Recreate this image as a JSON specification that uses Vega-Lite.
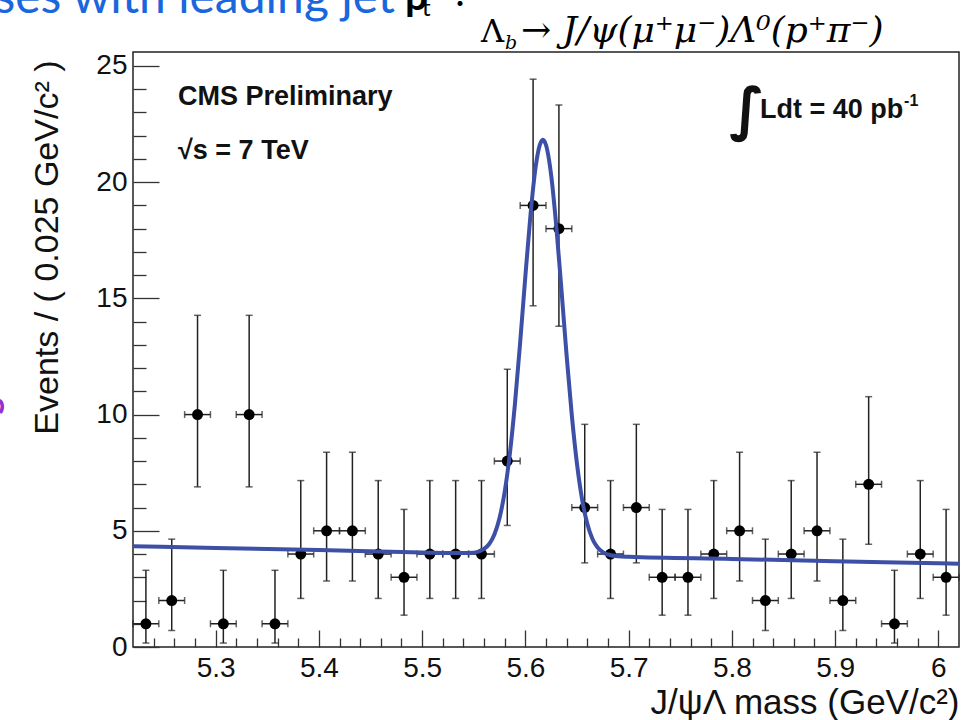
{
  "$schema": "https://vega.github.io/schema/vega-lite/v6.json",
  "width": 826,
  "height": 595,
  "autosize": {"type": "none"},
  "padding": {"left": 133, "top": 52, "right": 8, "bottom": 73},
  "background": "white",
  "config": {
    "font": "Liberation Sans",
    "view": {"stroke": "#222", "strokeWidth": 1.5},
    "axis": {"grid": false, "domain": false, "tickColor": "#333", "tickWidth": 1.3, "labelColor": "#111", "titleColor": "#111"}
  },
  "datasets": {
    "bins": [
      {"m": 5.2325, "n": 1, "lo": 0.17, "hi": 3.30, "x0": 5.22, "x1": 5.245},
      {"m": 5.2575, "n": 2, "lo": 0.71, "hi": 4.64, "x0": 5.245, "x1": 5.27},
      {"m": 5.2825, "n": 10, "lo": 6.89, "hi": 14.27, "x0": 5.27, "x1": 5.295},
      {"m": 5.3075, "n": 1, "lo": 0.17, "hi": 3.30, "x0": 5.295, "x1": 5.32},
      {"m": 5.3325, "n": 10, "lo": 6.89, "hi": 14.27, "x0": 5.32, "x1": 5.345},
      {"m": 5.3575, "n": 1, "lo": 0.17, "hi": 3.30, "x0": 5.345, "x1": 5.37},
      {"m": 5.3825, "n": 4, "lo": 2.09, "hi": 7.16, "x0": 5.37, "x1": 5.395},
      {"m": 5.4075, "n": 5, "lo": 2.84, "hi": 8.38, "x0": 5.395, "x1": 5.42},
      {"m": 5.4325, "n": 5, "lo": 2.84, "hi": 8.38, "x0": 5.42, "x1": 5.445},
      {"m": 5.4575, "n": 4, "lo": 2.09, "hi": 7.16, "x0": 5.445, "x1": 5.47},
      {"m": 5.4825, "n": 3, "lo": 1.37, "hi": 5.92, "x0": 5.47, "x1": 5.495},
      {"m": 5.5075, "n": 4, "lo": 2.09, "hi": 7.16, "x0": 5.495, "x1": 5.52},
      {"m": 5.5325, "n": 4, "lo": 2.09, "hi": 7.16, "x0": 5.52, "x1": 5.545},
      {"m": 5.5575, "n": 4, "lo": 2.09, "hi": 7.16, "x0": 5.545, "x1": 5.57},
      {"m": 5.5825, "n": 8, "lo": 5.23, "hi": 11.95, "x0": 5.57, "x1": 5.595},
      {"m": 5.6075, "n": 19, "lo": 14.68, "hi": 24.43, "x0": 5.595, "x1": 5.62},
      {"m": 5.6325, "n": 18, "lo": 13.80, "hi": 23.32, "x0": 5.62, "x1": 5.645},
      {"m": 5.6575, "n": 6, "lo": 3.62, "hi": 9.58, "x0": 5.645, "x1": 5.67},
      {"m": 5.6825, "n": 4, "lo": 2.09, "hi": 7.16, "x0": 5.67, "x1": 5.695},
      {"m": 5.7075, "n": 6, "lo": 3.62, "hi": 9.58, "x0": 5.695, "x1": 5.72},
      {"m": 5.7325, "n": 3, "lo": 1.37, "hi": 5.92, "x0": 5.72, "x1": 5.745},
      {"m": 5.7575, "n": 3, "lo": 1.37, "hi": 5.92, "x0": 5.745, "x1": 5.77},
      {"m": 5.7825, "n": 4, "lo": 2.09, "hi": 7.16, "x0": 5.77, "x1": 5.795},
      {"m": 5.8075, "n": 5, "lo": 2.84, "hi": 8.38, "x0": 5.795, "x1": 5.82},
      {"m": 5.8325, "n": 2, "lo": 0.71, "hi": 4.64, "x0": 5.82, "x1": 5.845},
      {"m": 5.8575, "n": 4, "lo": 2.09, "hi": 7.16, "x0": 5.845, "x1": 5.87},
      {"m": 5.8825, "n": 5, "lo": 2.84, "hi": 8.38, "x0": 5.87, "x1": 5.895},
      {"m": 5.9075, "n": 2, "lo": 0.71, "hi": 4.64, "x0": 5.895, "x1": 5.92},
      {"m": 5.9325, "n": 7, "lo": 4.42, "hi": 10.77, "x0": 5.92, "x1": 5.945},
      {"m": 5.9575, "n": 1, "lo": 0.17, "hi": 3.30, "x0": 5.945, "x1": 5.97},
      {"m": 5.9825, "n": 4, "lo": 2.09, "hi": 7.16, "x0": 5.97, "x1": 5.995},
      {"m": 6.0075, "n": 3, "lo": 1.37, "hi": 5.92, "x0": 5.995, "x1": 6.02}
    ],
    "fit": [
      {"m": 5.22, "f": 4.34}, {"m": 5.30, "f": 4.26}, {"m": 5.40, "f": 4.17}, {"m": 5.50, "f": 4.07},
      {"m": 5.54, "f": 4.04}, {"m": 5.55, "f": 4.06}, {"m": 5.56, "f": 4.22}, {"m": 5.565, "f": 4.43},
      {"m": 5.57, "f": 4.84}, {"m": 5.575, "f": 5.55}, {"m": 5.58, "f": 6.68}, {"m": 5.585, "f": 8.32},
      {"m": 5.59, "f": 10.50}, {"m": 5.595, "f": 13.12}, {"m": 5.60, "f": 15.95}, {"m": 5.605, "f": 18.60},
      {"m": 5.61, "f": 20.66}, {"m": 5.614, "f": 21.60}, {"m": 5.617, "f": 21.82}, {"m": 5.62, "f": 21.60},
      {"m": 5.625, "f": 20.30}, {"m": 5.63, "f": 18.08}, {"m": 5.635, "f": 15.35}, {"m": 5.64, "f": 12.52},
      {"m": 5.645, "f": 9.97}, {"m": 5.65, "f": 7.88}, {"m": 5.655, "f": 6.34}, {"m": 5.66, "f": 5.30},
      {"m": 5.665, "f": 4.65}, {"m": 5.67, "f": 4.28}, {"m": 5.675, "f": 4.08}, {"m": 5.68, "f": 3.98},
      {"m": 5.69, "f": 3.90}, {"m": 5.70, "f": 3.88}, {"m": 5.80, "f": 3.79}, {"m": 5.90, "f": 3.69},
      {"m": 6.00, "f": 3.60}, {"m": 6.02, "f": 3.58}
    ]
  },
  "resolve": {"axis": {"x": "independent", "y": "independent"}},
  "layer": [
    {
      "data": {"name": "bins"},
      "mark": {"type": "rule", "color": "#222", "strokeWidth": 1.5},
      "encoding": {
        "x": {"field": "m", "type": "quantitative", "scale": {"domain": [5.22, 6.02], "nice": false, "zero": false},
          "axis": {"orient": "bottom", "values": [5.3, 5.4, 5.5, 5.6, 5.7, 5.8, 5.9, 6.0], "format": "~g", "ticks": false, "labelFontSize": 28, "labelPadding": 7,
            "title": "J/ψΛ mass (GeV/c²)", "titleFontSize": 35, "titleFontWeight": "normal", "titleAlign": "right", "titleAnchor": "end", "titleX": 826, "titleY": 66, "titleBaseline": "alphabetic"}},
        "y": {"field": "lo", "type": "quantitative", "scale": {"domain": [0, 25.6], "nice": false, "zero": false},
          "axis": {"orient": "left", "values": [0, 5, 10, 15, 20, 25], "ticks": false, "labelFontSize": 28, "labelPadding": 6,
            "title": "Events / ( 0.025 GeV/c² )", "titleFontSize": 34, "titleFontWeight": "normal", "titleAngle": 270, "titleAlign": "right", "titleAnchor": "end", "titleX": -76, "titleY": 8, "titleBaseline": "alphabetic"}},
        "y2": {"field": "hi"}
      }
    },
    {
      "data": {"name": "bins"},
      "mark": {"type": "rule", "color": "#222", "strokeWidth": 1.5},
      "encoding": {
        "x": {"field": "x0", "type": "quantitative", "scale": {"domain": [5.22, 6.02], "nice": false, "zero": false},
          "axis": {"orient": "bottom", "values": [5.3, 5.4, 5.5, 5.6, 5.7, 5.8, 5.9, 6.0], "labels": false, "tickSize": -17, "title": null}},
        "x2": {"field": "x1"},
        "y": {"field": "n", "type": "quantitative", "scale": {"domain": [0, 25.6], "nice": false, "zero": false},
          "axis": {"orient": "left", "values": [0, 5, 10, 15, 20, 25], "labels": false, "tickSize": -26, "title": null}}
      }
    },
    {
      "data": {"name": "bins"},
      "mark": {"type": "tick", "orient": "horizontal", "color": "#222", "size": 7, "thickness": 1.5},
      "encoding": {
        "x": {"field": "m", "type": "quantitative", "scale": {"domain": [5.22, 6.02], "nice": false, "zero": false},
          "axis": {"orient": "bottom", "values": [5.24, 5.26, 5.28, 5.32, 5.34, 5.36, 5.38, 5.42, 5.44, 5.46, 5.48, 5.52, 5.54, 5.56, 5.58, 5.62, 5.64, 5.66, 5.68, 5.72, 5.74, 5.76, 5.78, 5.82, 5.84, 5.86, 5.88, 5.92, 5.94, 5.96, 5.98], "labels": false, "tickSize": -9, "title": null}},
        "y": {"field": "hi", "type": "quantitative", "scale": {"domain": [0, 25.6], "nice": false, "zero": false},
          "axis": {"orient": "left", "values": [1, 2, 3, 4, 6, 7, 8, 9, 11, 12, 13, 14, 16, 17, 18, 19, 21, 22, 23, 24], "labels": false, "tickSize": -13, "title": null}}
      }
    },
    {
      "data": {"name": "bins"},
      "mark": {"type": "tick", "orient": "horizontal", "color": "#222", "size": 7, "thickness": 1.5},
      "encoding": {
        "x": {"field": "m", "type": "quantitative", "scale": {"domain": [5.22, 6.02], "nice": false, "zero": false}, "axis": null},
        "y": {"field": "lo", "type": "quantitative", "scale": {"domain": [0, 25.6], "nice": false, "zero": false}, "axis": null}
      }
    },
    {
      "data": {"name": "bins"},
      "mark": {"type": "tick", "orient": "vertical", "color": "#222", "size": 7, "thickness": 1.5},
      "encoding": {
        "x": {"field": "x0", "type": "quantitative", "scale": {"domain": [5.22, 6.02], "nice": false, "zero": false}, "axis": null},
        "y": {"field": "n", "type": "quantitative", "scale": {"domain": [0, 25.6], "nice": false, "zero": false}, "axis": null}
      }
    },
    {
      "data": {"name": "bins"},
      "mark": {"type": "tick", "orient": "vertical", "color": "#222", "size": 7, "thickness": 1.5},
      "encoding": {
        "x": {"field": "x1", "type": "quantitative", "scale": {"domain": [5.22, 6.02], "nice": false, "zero": false}, "axis": null},
        "y": {"field": "n", "type": "quantitative", "scale": {"domain": [0, 25.6], "nice": false, "zero": false}, "axis": null}
      }
    },
    {
      "data": {"name": "bins"},
      "mark": {"type": "point", "filled": true, "shape": "circle", "color": "black", "size": 120, "opacity": 1},
      "encoding": {
        "x": {"field": "m", "type": "quantitative", "scale": {"domain": [5.22, 6.02], "nice": false, "zero": false}, "axis": null},
        "y": {"field": "n", "type": "quantitative", "scale": {"domain": [0, 25.6], "nice": false, "zero": false}, "axis": null}
      }
    },
    {
      "data": {"name": "fit"},
      "mark": {"type": "line", "color": "#3d4fa6", "strokeWidth": 4, "interpolate": "monotone", "clip": true},
      "encoding": {
        "x": {"field": "m", "type": "quantitative", "scale": {"domain": [5.22, 6.02], "nice": false, "zero": false}, "axis": null},
        "y": {"field": "f", "type": "quantitative", "scale": {"domain": [0, 25.6], "nice": false, "zero": false}, "axis": null}
      }
    },
    {
      "data": {"values": [{}]},
      "mark": {"type": "text", "text": "CMS Preliminary", "font": "Liberation Sans", "fontWeight": "bold", "fontSize": 27, "align": "left", "baseline": "alphabetic", "color": "#111"},
      "encoding": {
        "x": {"datum": 5.2636, "type": "quantitative", "scale": {"domain": [5.22, 6.02], "nice": false, "zero": false}, "axis": null},
        "y": {"datum": 23.30, "type": "quantitative", "scale": {"domain": [0, 25.6], "nice": false, "zero": false}, "axis": null}
      }
    },
    {
      "data": {"values": [{}]},
      "mark": {"type": "text", "text": "√s = 7 TeV", "font": "Liberation Sans", "fontWeight": "bold", "fontSize": 27, "align": "left", "baseline": "alphabetic", "color": "#111"},
      "encoding": {
        "x": {"datum": 5.2636, "type": "quantitative", "scale": {"domain": [5.22, 6.02], "nice": false, "zero": false}, "axis": null},
        "y": {"datum": 21.0, "type": "quantitative", "scale": {"domain": [0, 25.6], "nice": false, "zero": false}, "axis": null}
      }
    },
    {
      "data": {"values": [{}]},
      "mark": {"type": "text", "text": "∫", "font": "DejaVu Sans", "fontWeight": "bold", "fontSize": 58, "align": "center", "baseline": "middle", "color": "#111"},
      "encoding": {
        "x": {"datum": 5.8147, "type": "quantitative", "scale": {"domain": [5.22, 6.02], "nice": false, "zero": false}, "axis": null},
        "y": {"datum": 23.02, "type": "quantitative", "scale": {"domain": [0, 25.6], "nice": false, "zero": false}, "axis": null}
      }
    },
    {
      "data": {"values": [{}]},
      "mark": {"type": "text", "text": "Ldt = 40 pb", "font": "Liberation Sans", "fontWeight": "bold", "fontSize": 27, "align": "left", "baseline": "alphabetic", "color": "#111"},
      "encoding": {
        "x": {"datum": 5.8273, "type": "quantitative", "scale": {"domain": [5.22, 6.02], "nice": false, "zero": false}, "axis": null},
        "y": {"datum": 22.75, "type": "quantitative", "scale": {"domain": [0, 25.6], "nice": false, "zero": false}, "axis": null}
      }
    },
    {
      "data": {"values": [{}]},
      "mark": {"type": "text", "text": "-1", "font": "Liberation Sans", "fontWeight": "bold", "fontSize": 16, "align": "left", "baseline": "alphabetic", "color": "#111"},
      "encoding": {
        "x": {"datum": 5.9668, "type": "quantitative", "scale": {"domain": [5.22, 6.02], "nice": false, "zero": false}, "axis": null},
        "y": {"datum": 23.28, "type": "quantitative", "scale": {"domain": [0, 25.6], "nice": false, "zero": false}, "axis": null}
      }
    },
    {
      "data": {"values": [{}]},
      "mark": {"type": "text", "text": "Λ", "font": "DejaVu Serif", "fontSize": 32, "align": "left", "baseline": "alphabetic", "color": "black"},
      "encoding": {
        "x": {"datum": 5.557, "type": "quantitative", "scale": {"domain": [5.22, 6.02], "nice": false, "zero": false}, "axis": null},
        "y": {"datum": 26.03, "type": "quantitative", "scale": {"domain": [0, 25.6], "nice": false, "zero": false}, "axis": null}
      }
    },
    {
      "data": {"values": [{}]},
      "mark": {"type": "text", "text": "b", "font": "DejaVu Serif", "fontStyle": "italic", "fontSize": 19, "align": "left", "baseline": "alphabetic", "color": "black"},
      "encoding": {
        "x": {"datum": 5.5803, "type": "quantitative", "scale": {"domain": [5.22, 6.02], "nice": false, "zero": false}, "axis": null},
        "y": {"datum": 25.73, "type": "quantitative", "scale": {"domain": [0, 25.6], "nice": false, "zero": false}, "axis": null}
      }
    },
    {
      "data": {"values": [{}]},
      "mark": {"type": "text", "text": "→ J/ψ(μ⁺μ⁻)Λ⁰(p⁺π⁻)", "font": "DejaVu Serif", "fontStyle": "italic", "fontSize": 36, "align": "left", "baseline": "alphabetic", "color": "black"},
      "encoding": {
        "x": {"datum": 5.5958, "type": "quantitative", "scale": {"domain": [5.22, 6.02], "nice": false, "zero": false}, "axis": null},
        "y": {"datum": 26.03, "type": "quantitative", "scale": {"domain": [0, 25.6], "nice": false, "zero": false}, "axis": null}
      }
    },
    {
      "data": {"values": [{}]},
      "mark": {"type": "text", "text": "ses with leading jet", "font": "Lato", "fontSize": 48, "align": "right", "baseline": "alphabetic", "color": "#1a66dd"},
      "encoding": {
        "x": {"datum": 5.4738, "type": "quantitative", "scale": {"domain": [5.22, 6.02], "nice": false, "zero": false}, "axis": null},
        "y": {"datum": 27.28, "type": "quantitative", "scale": {"domain": [0, 25.6], "nice": false, "zero": false}, "axis": null}
      }
    },
    {
      "data": {"values": [{}]},
      "mark": {"type": "text", "text": "p", "font": "Lato", "fontWeight": "bold", "fontSize": 40, "align": "left", "baseline": "alphabetic", "color": "black"},
      "encoding": {
        "x": {"datum": 5.4834, "type": "quantitative", "scale": {"domain": [5.22, 6.02], "nice": false, "zero": false}, "axis": null},
        "y": {"datum": 27.4, "type": "quantitative", "scale": {"domain": [0, 25.6], "nice": false, "zero": false}, "axis": null}
      }
    },
    {
      "data": {"values": [{}]},
      "mark": {"type": "text", "text": "t", "font": "Lato", "fontSize": 24, "align": "left", "baseline": "alphabetic", "color": "black"},
      "encoding": {
        "x": {"datum": 5.4999, "type": "quantitative", "scale": {"domain": [5.22, 6.02], "nice": false, "zero": false}, "axis": null},
        "y": {"datum": 27.15, "type": "quantitative", "scale": {"domain": [0, 25.6], "nice": false, "zero": false}, "axis": null}
      }
    },
    {
      "data": {"values": [{}]},
      "mark": {"type": "text", "text": "?", "font": "Lato", "fontSize": 40, "align": "left", "baseline": "alphabetic", "color": "black"},
      "encoding": {
        "x": {"datum": 5.529, "type": "quantitative", "scale": {"domain": [5.22, 6.02], "nice": false, "zero": false}, "axis": null},
        "y": {"datum": 27.6, "type": "quantitative", "scale": {"domain": [0, 25.6], "nice": false, "zero": false}, "axis": null}
      }
    },
    {
      "data": {"values": [{}]},
      "mark": {"type": "text", "text": "s", "font": "Lato", "fontWeight": "bold", "fontSize": 40, "angle": 270, "align": "center", "baseline": "alphabetic", "color": "#9a2fd0"},
      "encoding": {
        "x": {"datum": 5.0952, "type": "quantitative", "scale": {"domain": [5.22, 6.02], "nice": false, "zero": false}, "axis": null},
        "y": {"datum": 10.37, "type": "quantitative", "scale": {"domain": [0, 25.6], "nice": false, "zero": false}, "axis": null}
      }
    }
  ]
}
